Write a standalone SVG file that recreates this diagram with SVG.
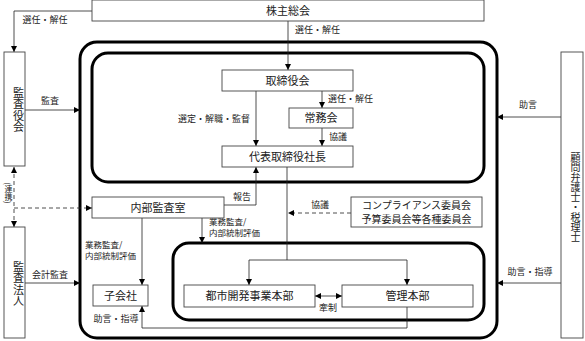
<svg xmlns="http://www.w3.org/2000/svg" width="585" height="341" viewBox="0 0 585 341">
<defs>
<marker id="ah" markerUnits="userSpaceOnUse" markerWidth="7" markerHeight="7" refX="6" refY="3" orient="auto">
<path d="M0,0 L6,3 L0,6 z" fill="#000"/>
</marker>
<marker id="ahs" markerUnits="userSpaceOnUse" markerWidth="7" markerHeight="7" refX="0" refY="3" orient="auto">
<path d="M6,0 L0,3 L6,6 z" fill="#000"/>
</marker>
<style>
.box{fill:#fff;stroke:#444;stroke-width:0.9}
.frame{fill:none;stroke:#000;stroke-width:3}
.t{font-family:"Noto Sans CJK JP","Noto Sans",sans-serif;font-size:11px;fill:#222;text-anchor:middle}
.v{font-family:"Noto Sans CJK JP","Noto Sans",sans-serif;font-size:11px;fill:#222;writing-mode:vertical-rl;text-anchor:middle}
.l{font-family:"Noto Sans CJK JP","Noto Sans",sans-serif;font-size:9px;fill:#222}
.s{font-size:8.5px}
.c{text-anchor:middle}
.ln{fill:none;stroke:#222;stroke-width:0.8}
.d{stroke-dasharray:4,3}
</style>
</defs>
<rect class="frame" x="80" y="42" width="417" height="296" rx="17"/>
<rect class="frame" x="92" y="53" width="392" height="129" rx="16"/>
<rect class="frame" x="173" y="243" width="311" height="77" rx="16"/>
<g id="connectors">
<polyline class="ln" points="92,11 14,11 14,52" marker-end="url(#ah)"/>
<line class="ln" x1="288" y1="21" x2="288" y2="70" marker-end="url(#ah)"/>
<line class="ln" x1="322" y1="91" x2="322" y2="108" marker-end="url(#ah)"/>
<line class="ln" x1="322" y1="128" x2="322" y2="146" marker-end="url(#ah)"/>
<line class="ln" x1="256" y1="91" x2="256" y2="146" marker-end="url(#ah)"/>
<line class="ln" x1="25" y1="110" x2="80" y2="110" marker-end="url(#ah)"/>
<line class="ln" x1="25" y1="283" x2="80" y2="283" marker-end="url(#ah)"/>
<line class="ln" x1="561" y1="117" x2="497" y2="117" marker-end="url(#ah)"/>
<line class="ln" x1="561" y1="283" x2="497" y2="283" marker-end="url(#ah)"/>
<line class="ln d" x1="14" y1="167" x2="14" y2="227" marker-start="url(#ahs)" marker-end="url(#ah)"/>
<line class="ln d" x1="14" y1="208" x2="92" y2="208" marker-end="url(#ah)"/>
<polyline class="ln" points="224,205 256,205 256,167" marker-end="url(#ah)"/>
<line class="ln" x1="287" y1="167" x2="287" y2="260"/>
<line class="ln" x1="249" y1="260" x2="407" y2="260"/>
<line class="ln" x1="249" y1="260" x2="249" y2="285" marker-end="url(#ah)"/>
<line class="ln" x1="407" y1="260" x2="407" y2="285" marker-end="url(#ah)"/>
<line class="ln d" x1="351" y1="213" x2="288" y2="213" marker-end="url(#ah)"/>
<line class="ln" x1="142" y1="218" x2="142" y2="285" marker-end="url(#ah)"/>
<line class="ln" x1="202" y1="218" x2="202" y2="243" marker-end="url(#ah)"/>
<line class="ln" x1="315" y1="296" x2="342" y2="296" marker-start="url(#ahs)" marker-end="url(#ah)"/>
<polyline class="ln" points="407,307 407,328 142,328 142,306" marker-end="url(#ah)"/>
<text class="l c" x="45" y="23">選任・解任</text>
<text class="l" x="295" y="33">選任・解任</text>
<text class="l" x="328" y="102">選任・解任</text>
<text class="l c" x="214" y="122">選定・解職・監督</text>
<text class="l" x="329" y="140">協議</text>
<text class="l c" x="50" y="104">監査</text>
<text class="l c" x="50" y="278">会計監査</text>
<text class="l c" x="528" y="108">助言</text>
<text class="l c" x="530" y="275">助言・指導</text>
<text class="l c" x="242" y="200">報告</text>
<text class="l s" x="209" y="225">業務監査/</text>
<text class="l s" x="209" y="236">内部統制評価</text>
<text class="l s" x="85" y="248">業務監査/</text>
<text class="l s" x="85" y="259">内部統制評価</text>
<text class="l c" x="320" y="208">協議</text>
<text class="l c" x="328" y="311">牽制</text>
<text class="l c" x="116" y="322">助言・指導</text>
<text class="l" x="8.5" y="193" style="writing-mode:vertical-rl;text-anchor:middle;font-size:8px">(連携)</text>
</g>
<g id="kabunushi"><rect class="box" x="92" y="0" width="392" height="21"/><text class="t" x="288" y="15">株主総会</text></g>
<g id="kansayakukai"><rect class="box" x="4" y="52" width="21" height="114"/><text class="v" x="18.4" y="110" style="letter-spacing:0.5px">監査役会</text></g>
<g id="kansahojin"><rect class="box" x="4" y="227" width="21" height="111"/><text class="v" x="18.4" y="284" style="letter-spacing:0.5px">監査法人</text></g>
<g id="komon"><rect class="box" x="561" y="52" width="22" height="286"/><text class="v" x="575.5" y="197" style="font-size:10px">顧問弁護士・税理士</text></g>
<g id="torishimariyakukai"><rect class="box" x="222" y="70" width="131" height="21"/><text class="t" x="287.5" y="84.5">取締役会</text></g>
<g id="jomukai"><rect class="box" x="289" y="108" width="64" height="20"/><text class="t" x="321" y="122">常務会</text></g>
<g id="shacho"><rect class="box" x="222" y="146" width="131" height="21"/><text class="t" x="287.5" y="160.5">代表取締役社長</text></g>
<g id="naibukansa"><rect class="box" x="92" y="197" width="132" height="21"/><text class="t" x="158" y="211.5">内部監査室</text></g>
<g id="compliance"><rect class="box" x="351" y="197" width="131" height="30"/><text class="t" x="416.5" y="209" style="font-size:10px">コンプライアンス委員会</text><text class="t" x="416.5" y="222.5" style="font-size:10px">予算委員会等各種委員会</text></g>
<g id="kogaisha"><rect class="box" x="93" y="285" width="55" height="21"/><text class="t" x="120.5" y="299.5">子会社</text></g>
<g id="toshikaihatsu"><rect class="box" x="184" y="285" width="131" height="22"/><text class="t" x="249.5" y="300">都市開発事業本部</text></g>
<g id="kanri"><rect class="box" x="342" y="285" width="131" height="22"/><text class="t" x="407.5" y="300">管理本部</text></g>
</svg>
